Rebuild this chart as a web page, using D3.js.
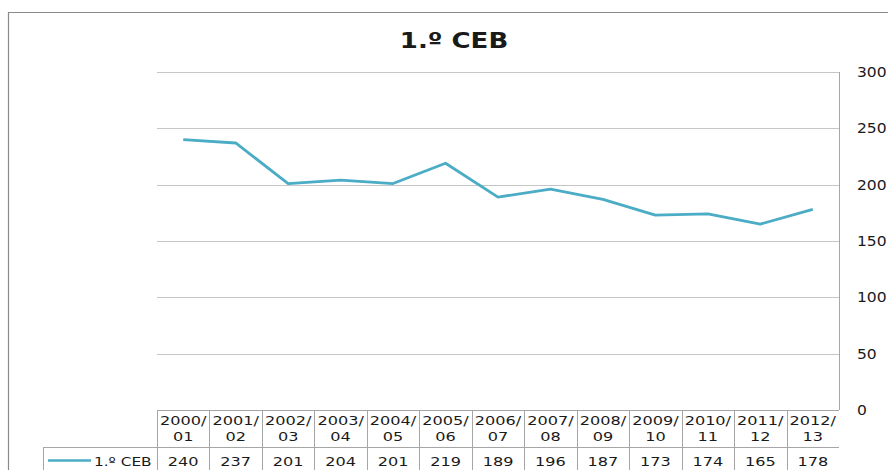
<!DOCTYPE html>
<html>
<head>
<meta charset="utf-8">
<script src="https://cdn.jsdelivr.net/npm/d3@7"></script>
<style>
  body { margin: 0; background: #fff; }
  svg { display: block; font-family: "DejaVu Sans", Verdana, sans-serif; }
</style>
</head>
<body>
<svg id="chart" width="888" height="470"></svg>
<script>
const title = "1.º CEB";
const seriesName = "1.º CEB";
const years = ["2000/01", "2001/02", "2002/03", "2003/04", "2004/05", "2005/06", "2006/07",
  "2007/08", "2008/09", "2009/10", "2010/11", "2011/12", "2012/13"];
const values = [240, 237, 201, 204, 201, 219, 189, 196, 187, 173, 174, 165, 178];
const yTicks = [0, 50, 100, 150, 200, 250, 300];

const lineColor = "#4bacc6";
const gridColor = "#c6c6c6";
const tableColor = "#a6a6a6";
const textColor = "#1a1a1a";

const svg = d3.select("#chart");

const plot = { left: 157, right: 839, top: 72, bottom: 410 };

const x = d3.scaleBand().domain(years).range([plot.left, plot.right]);
const y = d3.scaleLinear().domain([0, 300]).range([plot.bottom, plot.top]);

// the picture is slightly stretched sideways, so text gets widened too
function stretched(sel, px, py, str, opts) {
  const g = sel.append("g")
    .attr("transform", `translate(${px},${py}) scale(${opts.sx || 1.24},1)`);
  g.append("text")
    .attr("text-anchor", opts.anchor || "middle")
    .attr("font-size", opts.size || 13)
    .attr("font-weight", opts.weight || "normal")
    .attr("fill", textColor)
    .text(str);
}

// outer chart border
svg.append("path")
  .attr("d", "M8.5,470 V12.5 H888")
  .attr("fill", "none")
  .attr("stroke", "#8a8a8a")
  .attr("stroke-width", 1.2);

stretched(svg, 454, 48, title, { size: 21, weight: "bold", sx: 1.24 });

// gridlines
svg.append("g")
  .selectAll("line")
  .data(yTicks.filter(d => d > 0))
  .join("line")
    .attr("x1", plot.left)
    .attr("x2", plot.right)
    .attr("y1", d => Math.round(y(d)) + 0.5)
    .attr("y2", d => Math.round(y(d)) + 0.5)
    .attr("stroke", gridColor);

// right axis
svg.append("line")
  .attr("x1", plot.right + 0.5).attr("x2", plot.right + 0.5)
  .attr("y1", plot.top).attr("y2", plot.bottom)
  .attr("stroke", tableColor);

const axisG = svg.append("g");
yTicks.forEach(t => {
  stretched(axisG, 857, y(t) + 5, d3.format("d")(t), { anchor: "start", sx: 1.15, size: 13.5 });
});

// data table under the plot
const headTop = plot.bottom, rowTop = 447, rowBottom = 474;
const legendLeft = 43;
const table = svg.append("g")
  .attr("stroke", tableColor)
  .attr("fill", "none");

table.append("line")
  .attr("x1", plot.left).attr("x2", plot.right)
  .attr("y1", headTop + 0.5).attr("y2", headTop + 0.5);
table.append("line")
  .attr("x1", legendLeft).attr("x2", plot.right)
  .attr("y1", rowTop + 0.5).attr("y2", rowTop + 0.5);
table.append("line")
  .attr("x1", legendLeft + 0.5).attr("x2", legendLeft + 0.5)
  .attr("y1", rowTop).attr("y2", rowBottom);
table.selectAll("line.col")
  .data(years)
  .join("line")
    .attr("class", "col")
    .attr("x1", d => Math.round(x(d)) + 0.5)
    .attr("x2", d => Math.round(x(d)) + 0.5)
    .attr("y1", headTop)
    .attr("y2", rowBottom);

const cells = svg.append("g");
years.forEach((yr, i) => {
  const cx = x(yr) + x.bandwidth() / 2;
  const parts = yr.split("/");
  stretched(cells, cx, 425, parts[0] + "/", {});
  stretched(cells, cx, 441, parts[1], {});
  stretched(cells, cx, 466, values[i], {});
});

// legend key in the table
svg.append("line")
  .attr("x1", 48).attr("x2", 91)
  .attr("y1", 460.5).attr("y2", 460.5)
  .attr("stroke", lineColor)
  .attr("stroke-width", 2.5);
stretched(svg, 94, 466, seriesName, { anchor: "start", sx: 1.18 });

// the series line
const line = d3.line()
  .x((d, i) => x(years[i]) + x.bandwidth() / 2)
  .y(d => y(d));

svg.append("path")
  .datum(values)
  .attr("d", line)
  .attr("fill", "none")
  .attr("stroke", lineColor)
  .attr("stroke-width", 2.8)
  .attr("stroke-linejoin", "round");
</script>
</body>
</html>
